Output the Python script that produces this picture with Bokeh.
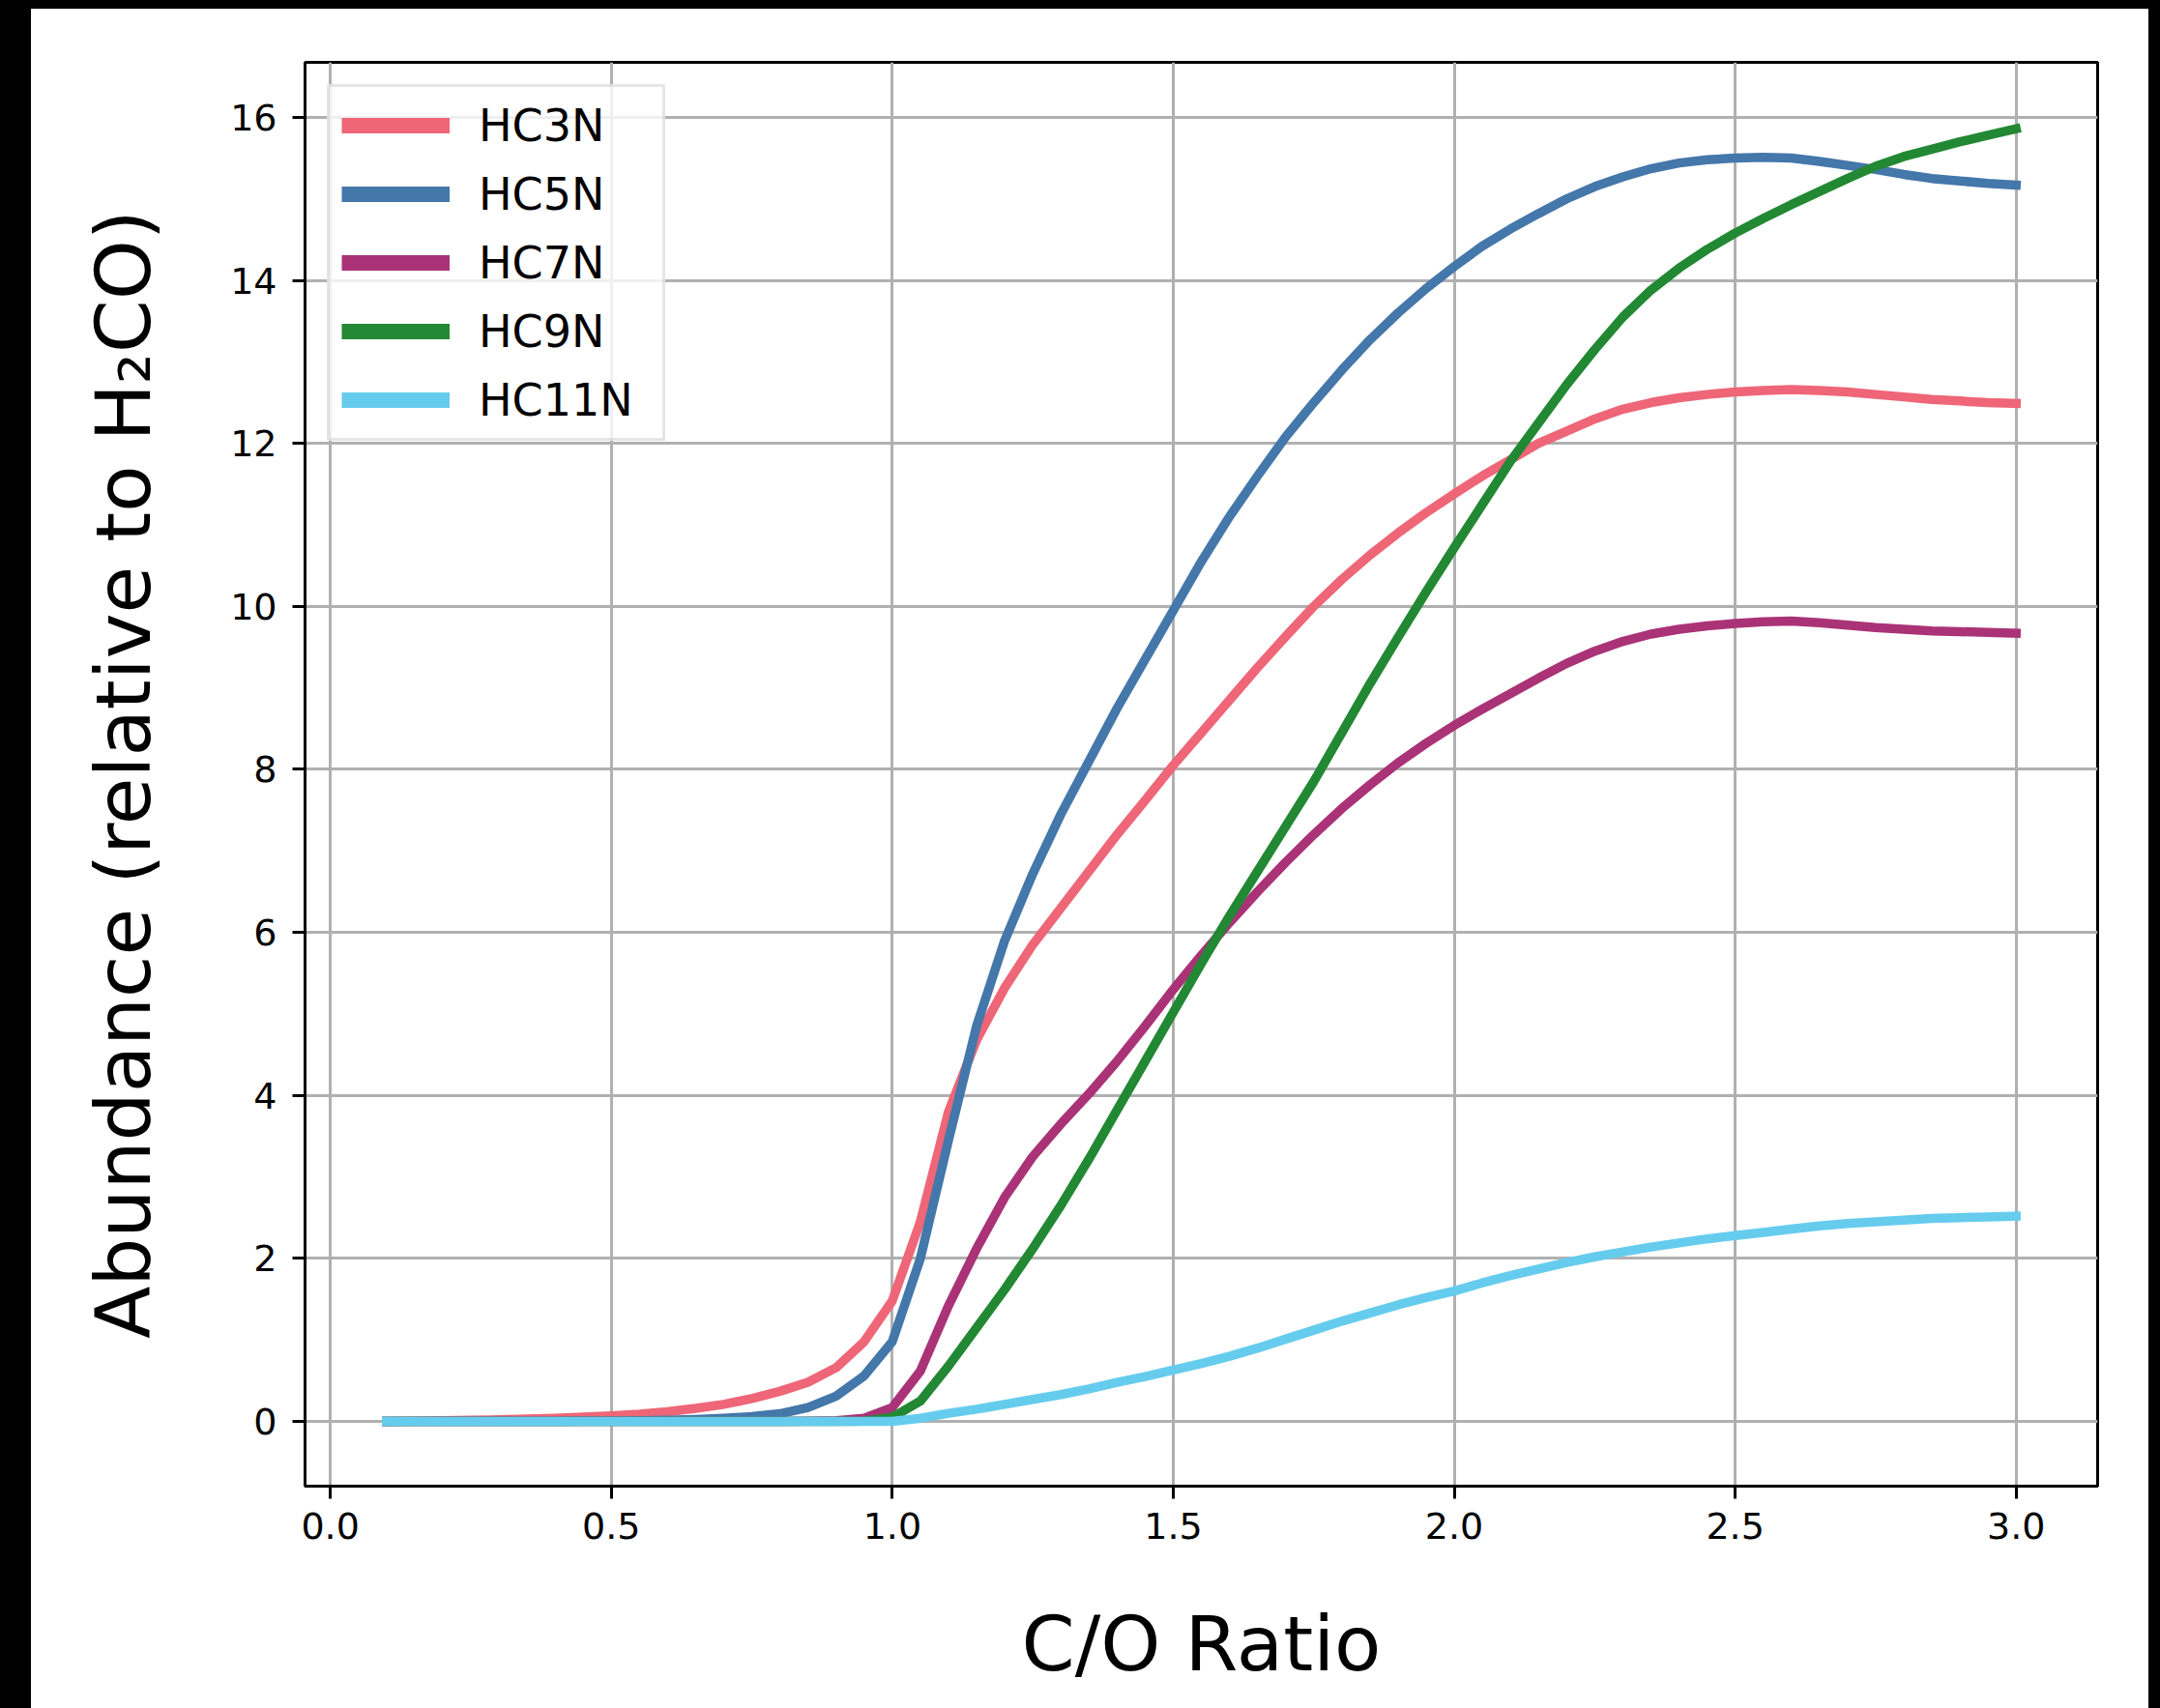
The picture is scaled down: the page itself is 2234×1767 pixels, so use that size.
from bokeh.plotting import figure
from bokeh.models import (Range1d, FixedTicker, NumeralTickFormatter, Legend,
                          LegendItem, Div)
from bokeh.layouts import row, column
from bokeh.embed import file_html
from bokeh.resources import INLINE

# ---------------- data ----------------
co_ratio = [0.10, 0.15, 0.20, 0.25, 0.30, 0.35, 0.40, 0.45, 0.50, 0.55,
            0.60, 0.65, 0.70, 0.75, 0.80, 0.85, 0.90, 0.95, 1.00, 1.05,
            1.10, 1.15, 1.20, 1.25, 1.30, 1.35, 1.40, 1.45, 1.50, 1.55,
            1.60, 1.65, 1.70, 1.75, 1.80, 1.85, 1.90, 1.95, 2.00, 2.05,
            2.10, 2.15, 2.20, 2.25, 2.30, 2.35, 2.40, 2.45, 2.50, 2.55,
            2.60, 2.65, 2.70, 2.75, 2.80, 2.85, 2.90, 2.95, 3.00]

hc3n = [0.00, 0.005, 0.01, 0.015, 0.02, 0.03, 0.04, 0.055, 0.07, 0.09,
        0.12, 0.16, 0.21, 0.28, 0.37, 0.48, 0.66, 0.98, 1.48, 2.45,
        3.80, 4.68, 5.32, 5.85, 6.30, 6.75, 7.20, 7.62, 8.05, 8.45,
        8.85, 9.25, 9.63, 10.00, 10.33, 10.63, 10.90, 11.15, 11.38, 11.60,
        11.80, 12.00, 12.15, 12.30, 12.42, 12.50, 12.56, 12.60, 12.63, 12.65,
        12.66, 12.65, 12.63, 12.60, 12.57, 12.54, 12.52, 12.50, 12.49]

hc5n = [0.00, 0.00, 0.00, 0.00, 0.00, 0.00, 0.00, 0.003, 0.005, 0.01,
        0.015, 0.025, 0.04, 0.06, 0.095, 0.17, 0.31, 0.56, 0.98, 2.00,
        3.45, 4.85, 5.90, 6.72, 7.45, 8.10, 8.75, 9.35, 9.95, 10.55,
        11.10, 11.60, 12.08, 12.50, 12.90, 13.27, 13.60, 13.90, 14.17, 14.42,
        14.63, 14.82, 15.00, 15.15, 15.27, 15.37, 15.44, 15.48, 15.50, 15.51,
        15.50, 15.46, 15.41, 15.36, 15.30, 15.25, 15.22, 15.19, 15.17]

hc7n = [0.00, 0.00, 0.00, 0.00, 0.00, 0.00, 0.00, 0.00, 0.00, 0.00,
        0.00, 0.00, 0.00, 0.00, 0.00, 0.003, 0.01, 0.04, 0.17, 0.62,
        1.42, 2.12, 2.75, 3.25, 3.65, 4.02, 4.42, 4.85, 5.30, 5.72,
        6.12, 6.50, 6.86, 7.20, 7.52, 7.81, 8.08, 8.32, 8.54, 8.74,
        8.93, 9.12, 9.30, 9.45, 9.57, 9.66, 9.72, 9.76, 9.79, 9.81,
        9.82, 9.80, 9.77, 9.74, 9.72, 9.70, 9.69, 9.68, 9.67]

hc9n = [0.00, 0.00, 0.00, 0.00, 0.00, 0.00, 0.00, 0.00, 0.00, 0.00,
        0.00, 0.00, 0.00, 0.00, 0.00, 0.00, 0.00, 0.005, 0.05, 0.25,
        0.68, 1.15, 1.62, 2.12, 2.65, 3.22, 3.82, 4.42, 5.02, 5.62,
        6.20, 6.75, 7.30, 7.85, 8.45, 9.05, 9.62, 10.18, 10.72, 11.25,
        11.78, 12.25, 12.72, 13.15, 13.55, 13.88, 14.15, 14.38, 14.58, 14.76,
        14.93, 15.09, 15.25, 15.40, 15.52, 15.61, 15.70, 15.78, 15.86]

hc11n = [0.00, 0.00, 0.00, 0.00, 0.00, 0.00, 0.00, 0.00, 0.00, 0.00,
         0.00, 0.00, 0.00, 0.00, 0.00, 0.00, 0.00, 0.00, 0.00, 0.04,
         0.10, 0.15, 0.21, 0.27, 0.33, 0.40, 0.48, 0.55, 0.63, 0.71,
         0.80, 0.90, 1.01, 1.12, 1.23, 1.33, 1.43, 1.52, 1.60, 1.70,
         1.79, 1.87, 1.95, 2.02, 2.08, 2.14, 2.19, 2.24, 2.28, 2.32,
         2.36, 2.40, 2.43, 2.45, 2.47, 2.49, 2.50, 2.51, 2.52]

series_names = ["HC3N", "HC5N", "HC7N", "HC9N", "HC11N"]
series_values = [hc3n, hc5n, hc7n, hc9n, hc11n]
series_colors = ["#EE6677", "#4477AA", "#AA3377", "#228833", "#66CCEE"]

x_ticks = [0.0, 0.5, 1.0, 1.5, 2.0, 2.5, 3.0]
y_ticks = [0, 2, 4, 6, 8, 10, 12, 14, 16]

FONT = "DejaVu Sans"

# ---------------- figure ----------------
p = figure(frame_width=1854, frame_height=1473,
           x_range=Range1d(-0.045, 3.145), y_range=Range1d(-0.794, 16.675),
           output_backend="svg", toolbar_location=None,
           min_border_left=283, min_border_right=53,
           min_border_top=55, min_border_bottom=230)
p.background_fill_color = "white"
p.border_fill_color = "white"
p.outline_line_color = "black"
p.outline_line_width = 3

for ax in (p.xaxis[0], p.yaxis[0]):
    ax.axis_line_color = "black"
    ax.axis_line_width = 3
    ax.major_tick_line_color = "black"
    ax.major_tick_line_width = 3
    ax.major_tick_out = 13
    ax.major_tick_in = 0
    ax.minor_tick_line_color = None
    ax.major_label_text_font = FONT
    ax.major_label_text_font_size = "38px"
    ax.major_label_text_color = "black"
    ax.axis_label_text_font = FONT
    ax.axis_label_text_font_size = "79px"
    ax.axis_label_text_font_style = "normal"
    ax.axis_label_text_color = "black"

p.xaxis.ticker = FixedTicker(ticks=x_ticks)
p.yaxis.ticker = FixedTicker(ticks=y_ticks)
p.xaxis.formatter = NumeralTickFormatter(format="0.0")
p.yaxis.formatter = NumeralTickFormatter(format="0")
p.xaxis.major_label_standoff = 14
p.yaxis.major_label_standoff = 16
p.xaxis.axis_label = "C/O Ratio"
p.yaxis.axis_label = "Abundance (relative to H\u2082CO)"
p.xaxis.axis_label_standoff = 60
p.yaxis.axis_label_standoff = 61

p.xgrid.grid_line_color = "#b0b0b0"
p.ygrid.grid_line_color = "#b0b0b0"
p.xgrid.grid_line_width = 3
p.ygrid.grid_line_width = 3

items = []
for name, vals, col in zip(series_names, series_values, series_colors):
    p.line(co_ratio, vals, line_color=col, line_width=9.5,
           line_join="round", line_cap="square")
    # off-range proxy line, used only for the thicker legend handle
    proxy = p.line([-10, -9], [-10, -10], line_color=col, line_width=16,
                   line_cap="butt")
    items.append(LegendItem(label=name, renderers=[proxy]))

legend = Legend(items=items, location="top_left")
legend.margin = 23
legend.padding = 12
legend.spacing = 16
legend.glyph_width = 112
legend.glyph_height = 55
legend.label_height = 55
legend.label_width = 178
legend.label_standoff = 30
legend.label_text_font = FONT
legend.label_text_font_size = "46px"
legend.label_text_color = "black"
legend.border_line_color = "#cccccc"
legend.border_line_width = 3
legend.background_fill_color = "white"
legend.background_fill_alpha = 0.8
p.add_layout(legend)

top_bar = Div(text="", width=2234, height=9, margin=0,
              styles={"background-color": "black"})
left_bar = Div(text="", width=32, height=1758, margin=0,
               styles={"background-color": "black"})
right_bar = Div(text="", width=12, height=1758, margin=0,
                styles={"background-color": "black"})
layout = column(top_bar, row(left_bar, p, right_bar, spacing=0), spacing=0)

open("out.html", "w").write(file_html(layout, INLINE))
